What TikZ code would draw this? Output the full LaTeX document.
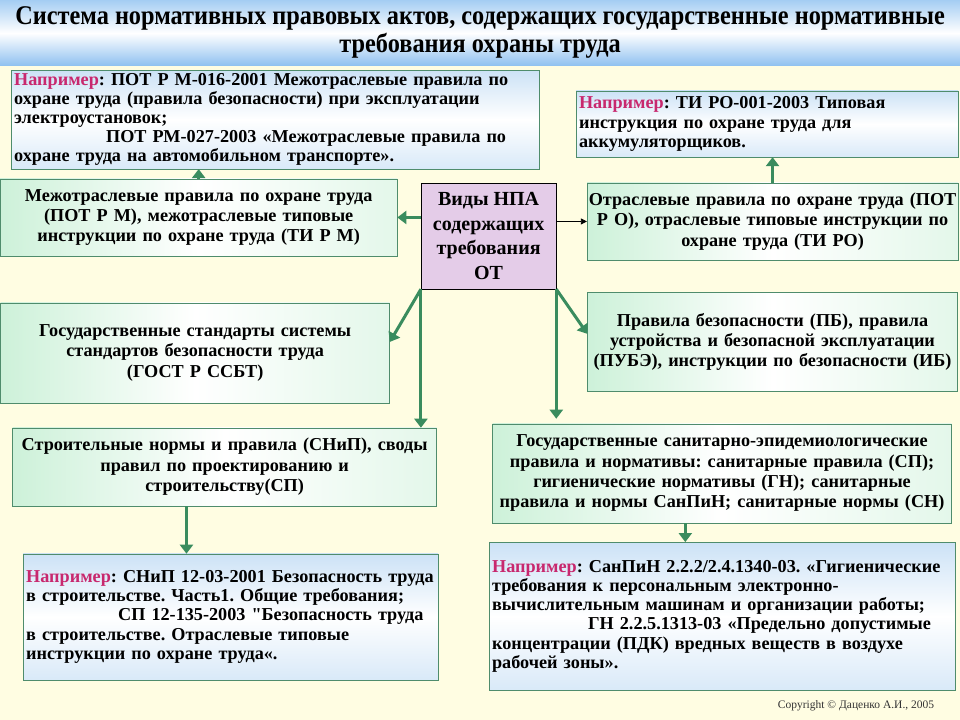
\documentclass[tikz,border=0pt]{standalone}
\usepackage{fontspec}
\setmainfont{Liberation Serif}[Ligatures=TeXOff]
\newfontfamily\titlefont[FakeStretch=0.9, Ligatures=TeXOff]{Liberation Serif}
\usetikzlibrary{positioning, calc, arrows.meta}
\frenchspacing

\definecolor{bgyellow}{HTML}{FFFDE2}
\definecolor{bandtop}{HTML}{A4CDF3}
\definecolor{bandbot}{HTML}{8EC0F0}
\definecolor{boxgreen}{HTML}{CDF1D9}
\definecolor{boxblue}{HTML}{CCE2F6}
\definecolor{edgegreen}{HTML}{4F8C6C}
\definecolor{arrowgreen}{HTML}{3A8C5E}
\definecolor{vidfill}{HTML}{E4CCE8}
\definecolor{naprcol}{HTML}{C8286E}

\newcommand{\napr}{{\color{naprcol}Например}}

\begin{document}
\begin{tikzpicture}[x=1pt, y=-1pt]
    \tikzstyle{greenbox} = [draw=edgegreen, left color=boxgreen, right color=boxgreen!55, middle color=white, inner sep=4pt, align=center, font=\fontsize{18.2}{20.3}\selectfont\bfseries];
    \tikzstyle{exbox} = [draw=edgegreen, top color=boxblue, bottom color=boxblue!75, middle color=white, inner sep=3pt, align=left, font=\fontsize{18.2}{19.2}\selectfont\bfseries];
    \tikzstyle{garrow} = [draw=arrowgreen, line width=3pt, -{Triangle[width=13pt, length=9pt]}];
    \tikzstyle{barrow} = [draw=black, line width=0.8pt, -{Triangle[width=6pt, length=6pt]}];

    % background and title band
    \fill[bgyellow] (0,0) rectangle (960,720);
    \shade[top color=bandtop, bottom color=bandbot, middle color=white] (0,0) rectangle (960,66);
    \node[font=\titlefont\fontsize{27}{28.5}\selectfont\bfseries, align=center] (TITLE) at (480,32.5)
        {Система нормативных правовых актов, содержащих государственные нормативные\\требования охраны труда};

    % centre
    \node[draw=black, fill=vidfill, minimum width=135pt, minimum height=106pt, align=center,
          font=\fontsize{20}{24.5}\selectfont\bfseries] (VID) at (488.5,236) {Виды НПА\\содержащих\\требования\\ОТ};

    % left column
    \node[exbox, text width=522pt, minimum height=95pt] (EX1) at (275,119.5)
        {\napr: ПОТ Р М-016-2001 Межотраслевые правила по\\
         охране труда (правила безопасности) при эксплуатации\\
         электроустановок;\\
         \hspace*{92pt}ПОТ РМ-027-2003 «Межотраслевые правила по\\
         охране труда на автомобильном транспорте».};
    \node[greenbox, text width=389pt, minimum height=77pt] (MEZH) at (198.5,217.5)
        {Межотраслевые правила по охране труда\\(ПОТ Р М), межотраслевые типовые\\инструкции  по охране труда (ТИ Р М)};
    \node[greenbox, text width=381pt, minimum height=100pt] (GOST) at (195,353)
        {Государственные стандарты системы\\стандартов безопасности труда\\(ГОСТ Р ССБТ)};
    \node[greenbox, text width=416pt, minimum height=78pt] (SNIP) at (224.5,467)
        {Строительные нормы и правила (СНиП), своды\\правил по  проектированию и\\строительству(СП)};
    \node[exbox, text width=409pt, minimum height=126pt] (EX3) at (230.5,617)
        {\napr: СНиП 12-03-2001 Безопасность труда\\
         в строительстве. Часть1. Общие требования;\\
         \hspace*{92pt}СП 12-135-2003 "Безопасность труда\\
         в строительстве.  Отраслевые типовые\\
         инструкции по охране труда«.};

    % right column
    \node[exbox, text width=376pt, minimum height=66pt] (EX2) at (767,124)
        {\napr: ТИ РО-001-2003 Типовая\\
         инструкция по охране труда для\\
         аккумуляторщиков.};
    \node[greenbox, inner sep=1pt, text width=369pt, minimum height=77pt] (OTR) at (772.5,221.5)
        {Отраслевые правила по охране труда (ПОТ\\Р О), отраслевые типовые инструкции  по\\охране труда (ТИ РО)};
    \node[greenbox, text width=362pt, minimum height=99pt, below = 32pt of OTR] (PB)
        {Правила безопасности (ПБ), правила\\устройства и безопасной эксплуатации\\(ПУБЭ), инструкции по безопасности (ИБ)};
    \node[greenbox, text width=451pt, minimum height=99pt] (SAN) at (722,473.5)
        {Государственные санитарно-эпидемиологические\\правила и нормативы: санитарные правила  (СП);\\гигиенические  нормативы  (ГН); санитарные\\правила и нормы СанПиН; санитарные нормы (СН)};
    \node[exbox, text width=460pt, minimum height=148pt, below = 19pt of SAN] (EX4)
        {\napr: СанПиН 2.2.2/2.4.1340-03. «Гигиенические\\
         требования к персональным электронно-\\
         вычислительным машинам и организации работы;\\
         \hspace*{96pt}ГН 2.2.5.1313-03 «Предельно допустимые\\
         концентрации (ПДК) вредных веществ в воздухе\\
         рабочей зоны».};

    \node[font=\fontsize{11.5}{13}\selectfont, text=black!80] (COPY) at (856,706) {Copyright © Даценко А.И., 2005};

    % connectors
    \draw[garrow] (MEZH.north) -- (MEZH.north |- EX1.south);
    \draw[garrow] (VID.west |- MEZH.east) -- (MEZH.east);
    \draw[barrow] (VID.east |- OTR.west) -- (OTR.west);
    \draw[garrow] (OTR.north) -- (OTR.north |- EX2.south);
    \draw[garrow] (VID.south west) -- ([yshift=11pt]GOST.east);
    \draw[garrow] (VID.south west) -- (VID.south west |- SNIP.north);
    \draw[garrow] (VID.south east) -- ([yshift=8pt]PB.west);
    \draw[garrow, shorten >=5pt] (VID.south east) -- (VID.south east |- SAN.north);
    \draw[garrow] ($(SNIP.south west)!0.41!(SNIP.south east)$) coordinate (s1) -- (s1 |- EX3.north);
    \draw[garrow] ($(SAN.south west)!0.42!(SAN.south east)$) coordinate (s2) -- (s2 |- EX4.north);
\end{tikzpicture}
\end{document}
